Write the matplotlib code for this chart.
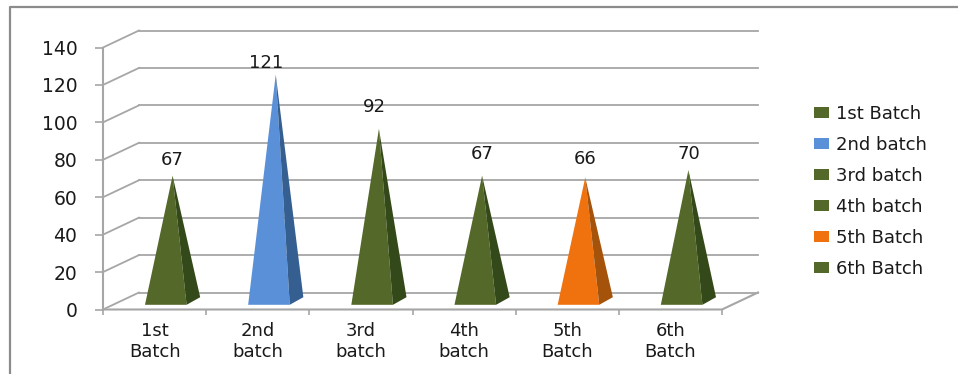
import matplotlib.pyplot as plt
from matplotlib.lines import Line2D
from matplotlib.patches import Patch

# Chart data
categories = ['1st\nBatch', '2nd\nbatch', '3rd\nbatch', '4th\nbatch', '5th\nBatch', '6th\nBatch']
legend_names = ['1st Batch', '2nd batch', '3rd batch', '4th batch', '5th Batch', '6th Batch']
values = [67, 121, 92, 67, 66, 70]
y_ticks = [0, 20, 40, 60, 80, 100, 120, 140]

OLIVE = ('#536829', '#344919')
BLUE = ('#5a90d8', '#365f91')
ORANGE = ('#f0720f', '#a5530a')
bar_colors = [OLIVE, BLUE, OLIVE, OLIVE, ORANGE, OLIVE]

# Nudge of each value label from its peak, in pixels
label_dx = [0, -10, -5, 0, 0, 0]
label_dy = [16, 12, 22, 22, 18, 16]

W, H = 958, 374
GRID = '#a6a6a6'
TEXT = '#1a1a1a'
FONT = 13

plt.rcParams['font.family'] = 'DejaVu Sans'

fig = plt.figure(figsize=(W / 100, H / 100), dpi=100)
ax = fig.add_axes([103 / W, (H - 309.5) / H, 619 / W, 262 / H])
ax.set_xlim(0, 6)
ax.set_ylim(0, 140)
ax.patch.set_alpha(0)
for spine in ax.spines.values():
    spine.set_visible(False)

# Pixel sizes converted to data units for the fake 3D depth
px_x = 6 / 619
px_y = 140 / 262
depth_x = 36 * px_x
depth_y = 17 * px_y

# Floor, side wall and back wall gridlines
for v in y_ticks:
    ax.plot([0, depth_x], [v, v + depth_y], color=GRID, lw=1.3, clip_on=False, zorder=1)
    ax.plot([depth_x, 6 + depth_x], [v + depth_y, v + depth_y], color=GRID, lw=1.3,
            clip_on=False, zorder=1)
ax.plot([0, 0], [0, 140], color=GRID, lw=1.5, clip_on=False, zorder=1)
ax.plot([0, 6, 6 + depth_x], [0, 0, depth_y], color=GRID, lw=1.5, clip_on=False, zorder=1)

# Pyramids, front face then darker side face
half_w = 20.8 * px_x
half_dx = 6.8 * px_x
half_dy = 3.8 * px_y
for i, v in enumerate(values):
    cx = i + 0.5 + depth_x / 2
    cy = depth_y / 2
    front_l = (cx - half_w - half_dx, cy - half_dy)
    front_r = (cx + half_w - half_dx, cy - half_dy)
    back_r = (front_r[0] + 2 * half_dx, cy + half_dy)
    peak = (cx, cy + v)
    face, side = bar_colors[i]
    ax.fill([front_l[0], front_r[0], peak[0]], [front_l[1], front_r[1], peak[1]],
            color=face, lw=0, clip_on=False, zorder=3)
    ax.fill([front_r[0], back_r[0], peak[0]], [front_r[1], back_r[1], peak[1]],
            color=side, lw=0, clip_on=False, zorder=3)
    ax.annotate(str(v), xy=peak, xytext=(label_dx[i] * 0.72, label_dy[i] * 0.72),
                textcoords='offset points', ha='center', va='center',
                fontsize=FONT, color=TEXT, annotation_clip=False, zorder=4)

# Axis ticks and labels
ax.set_yticks(y_ticks)
ax.tick_params(axis='y', length=5.5, width=1.2, color=GRID, pad=13, labelsize=FONT + 0.5,
               labelcolor=TEXT)
ax.set_xticks(range(7))
ax.set_xticklabels([])
ax.tick_params(axis='x', which='major', length=3.5, width=1.2, color=GRID)
ax.set_xticks([i + 0.5 for i in range(6)], minor=True)
ax.set_xticklabels(categories, minor=True, fontsize=FONT, color=TEXT, linespacing=1.2)
ax.tick_params(axis='x', which='minor', length=0, pad=9)

# Legend
handles = [Patch(facecolor=c[0], edgecolor='none') for c in bar_colors]
fig.legend(handles, legend_names, loc='upper left', bbox_to_anchor=(814 / W, 1 - 105 / H),
           frameon=False, fontsize=FONT, labelcolor=TEXT, borderpad=0, borderaxespad=0,
           handlelength=0.83, handleheight=0.5, handletextpad=0.39, labelspacing=0.72)

# Outer chart frame, open on the right and bottom
fig.add_artist(Line2D([9.5 / W, 9.5 / W, 1], [0, 1 - 6.5 / H, 1 - 6.5 / H], color='#8c8c8c', lw=1.6))

fig.savefig('out.png', dpi=100)
